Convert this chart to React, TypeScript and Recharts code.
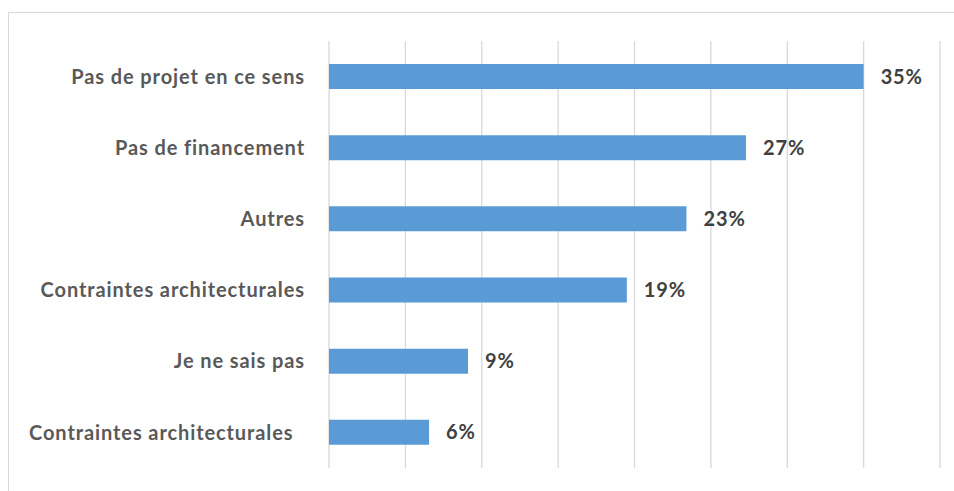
import React from "react";
import { BarChart, Bar, XAxis, YAxis, CartesianGrid, LabelList } from "recharts";

const categories = [
  "Pas de projet en ce sens",
  "Pas de financement",
  "Autres",
  "Contraintes architecturales",
  "Je ne sais pas",
  "Contraintes architecturales\u00A0\u00A0",
];
const values = [35.0, 27.3, 23.4, 19.5, 9.1, 6.55];
const valueLabels = ["35%", "27%", "23%", "19%", "9%", "6%"];
const xTicks = [0, 5, 10, 15, 20, 25, 30, 35, 40];

const data = categories.map((c, i) => ({ name: c, value: values[i], label: valueLabels[i] }));

const FONT = "Lato, 'Open Sans', sans-serif";

export default function App() {
  return (
    <div style={{ position: "fixed", left: 0, top: 0, width: 954, height: 491, background: "#fff" }}>
      <div
        style={{
          position: "absolute",
          left: 8,
          top: 12,
          width: 960,
          height: 500,
          borderTop: "1px solid #D9D9D9",
          borderLeft: "1px solid #D9D9D9",
        }}
      />
      <div style={{ position: "absolute", left: 0, top: 0 }}>
        <BarChart
          width={954}
          height={491}
          data={data}
          layout="vertical"
          margin={{ top: 41, right: 14, bottom: 23, left: 0 }}
        >
          <CartesianGrid horizontal={false} stroke="#D9D9D9" strokeWidth={1.3} />
          <XAxis type="number" domain={[0, 40]} ticks={xTicks} hide />
          <YAxis
            type="category"
            dataKey="name"
            width={329}
            axisLine={false}
            tickLine={false}
            tickMargin={18}
            interval={0}
            tick={{ fill: "#595959", fontSize: 20, fontWeight: 700, fontFamily: FONT, letterSpacing: 0.9 }}
          />
          <Bar dataKey="value" fill="#5B9BD5" barSize={25} isAnimationActive={false}>
            <LabelList
              dataKey="label"
              position="right"
              offset={17}
              fill="#404040"
              style={{ fontSize: 20, fontWeight: 700, fontFamily: FONT, letterSpacing: 0.9 }}
            />
          </Bar>
        </BarChart>
      </div>
    </div>
  );
}
